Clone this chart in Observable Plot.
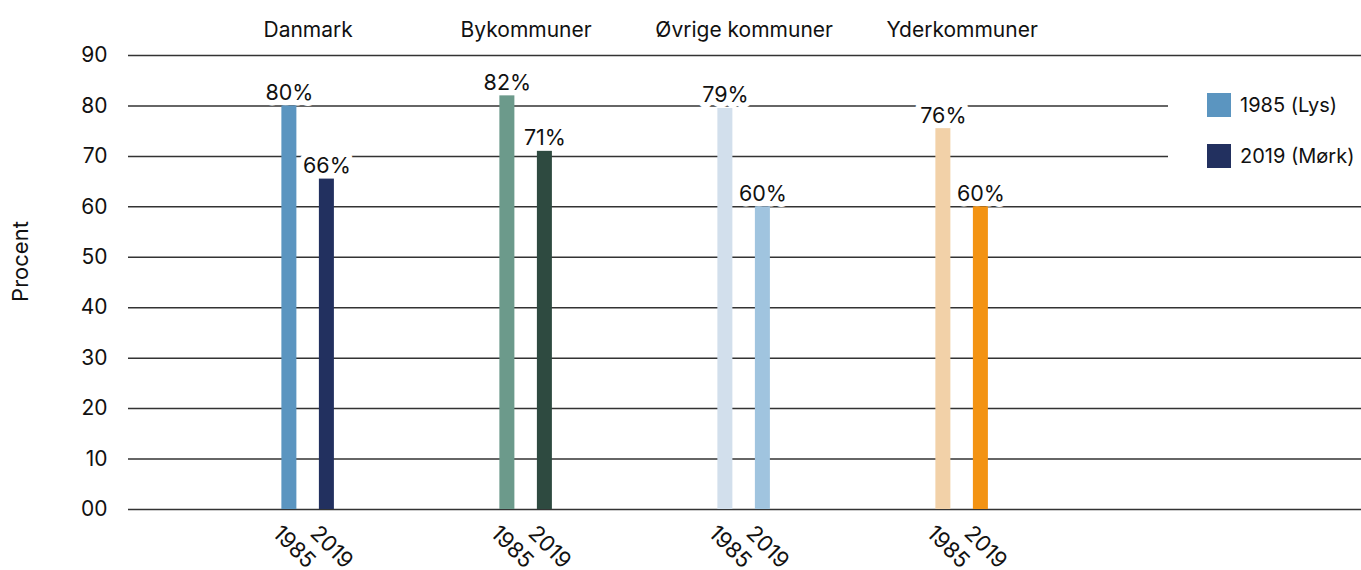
<!DOCTYPE html>
<html><head><meta charset="utf-8">
<script src="https://cdn.jsdelivr.net/npm/d3@7"></script>
<script src="https://cdn.jsdelivr.net/npm/@observablehq/plot@0.6"></script>
<style>
body{margin:0;background:#fff;font-family:Inter, sans-serif;}
#wrap{position:relative;width:1361px;height:570px;}
#wrap svg{position:absolute;left:0;top:0;}
#legend{position:absolute;left:1168px;top:64px;width:193px;height:132px;background:#fff;}
.item{position:absolute;left:39px;display:flex;align-items:center;font-size:20px;color:#111;white-space:nowrap;}
.sw{width:24px;height:24px;margin-right:9px;}
</style></head><body><div id="wrap"></div>
<script>
const groups = ["Danmark", "Bykommuner", "Øvrige kommuner", "Yderkommuner"];
const years = ["1985", "2019"];
const values1985 = [80, 82, 79.5, 75.5];
const values2019 = [65.5, 71, 60, 60];
const labels1985 = ["80%", "82%", "79%", "76%"];
const labels2019 = ["66%", "71%", "60%", "60%"];
const colors1985 = ["#5b95c0", "#6c9a8b", "#d2dfec", "#f2d1a8"];
const colors2019 = ["#22305f", "#2e4a40", "#a0c4df", "#f39313"];
const yTicks = [0, 10, 20, 30, 40, 50, 60, 70, 80, 90];
const yTickLabels = ["00", "10", "20", "30", "40", "50", "60", "70", "80", "90"];
const legendLabels = ["1985 (Lys)", "2019 (Mørk)"];
const legendColors = ["#5b95c0", "#22305f"];
const yLabel = "Procent";

const data = groups.flatMap((g, i) => [
  {group: g, year: years[0], value: values1985[i], label: labels1985[i], color: colors1985[i]},
  {group: g, year: years[1], value: values2019[i], label: labels2019[i], color: colors2019[i]}
]);

const common = {
  width: 1361, height: 570,
  marginLeft: 128, marginRight: 0, marginTop: 55, marginBottom: 61,
  y: {domain: [0, 90], label: null, axis: null}
};

// underlay: grid lines, y tick labels, y title
const under = Plot.plot({
  ...common,
  style: {fontFamily: "Inter, sans-serif", color: "#111", background: "white", overflow: "visible"},
  marks: [
    Plot.ruleY(yTicks, {y: d => d, stroke: "#333", strokeWidth: 1.5}),
    Plot.text(yTicks, {y: d => d, text: (d, i) => yTickLabels[i], frameAnchor: "left", textAnchor: "end", dx: -21, fontSize: 21}),
    Plot.text([yLabel], {text: d => d, frameAnchor: "left", textAnchor: "middle", rotate: -90, dx: -108, dy: -21, fontSize: 22})
  ]
});

// overlay: faceted bars
const over = Plot.plot({
  ...common,
  style: {fontFamily: "Inter, sans-serif", color: "#111", background: "transparent", overflow: "visible"},
  fx: {domain: groups, paddingInner: 0.1, paddingOuter: 0.878, align: 0.213, round: false, label: null},
  x: {domain: years, paddingInner: 0.6, paddingOuter: 1.915, round: false, label: null},
  color: {type: "identity"},
  marks: [
    Plot.text(data, {fx: "group", x: "year", y: "value", text: "label", dy: -13, fontSize: 21.5, stroke: "white", strokeWidth: 11, paintOrder: "stroke", fill: "#111"}),
    Plot.barY(data, {fx: "group", x: "year", y: "value", fill: "color"}),
    Plot.axisX({tickRotate: 45, tickSize: 0, tickPadding: 14, dx: -13, dy: 6, fontSize: 22, label: null}),
    Plot.axisFx({anchor: "top", tickSize: 0, tickPadding: 19, fontSize: 21, label: null})
  ]
});

const wrap = document.getElementById("wrap");
wrap.appendChild(under);
const legend = document.createElement("div");
legend.id = "legend";
legendLabels.forEach((t, i) => {
  const it = document.createElement("div");
  it.className = "item";
  it.style.top = (29 + i * 51) + "px";
  const sw = document.createElement("div");
  sw.className = "sw";
  sw.style.background = legendColors[i];
  const tx = document.createElement("span");
  tx.textContent = t;
  it.appendChild(sw); it.appendChild(tx);
  legend.appendChild(it);
});
wrap.appendChild(legend);
wrap.appendChild(over);
</script></body></html>
